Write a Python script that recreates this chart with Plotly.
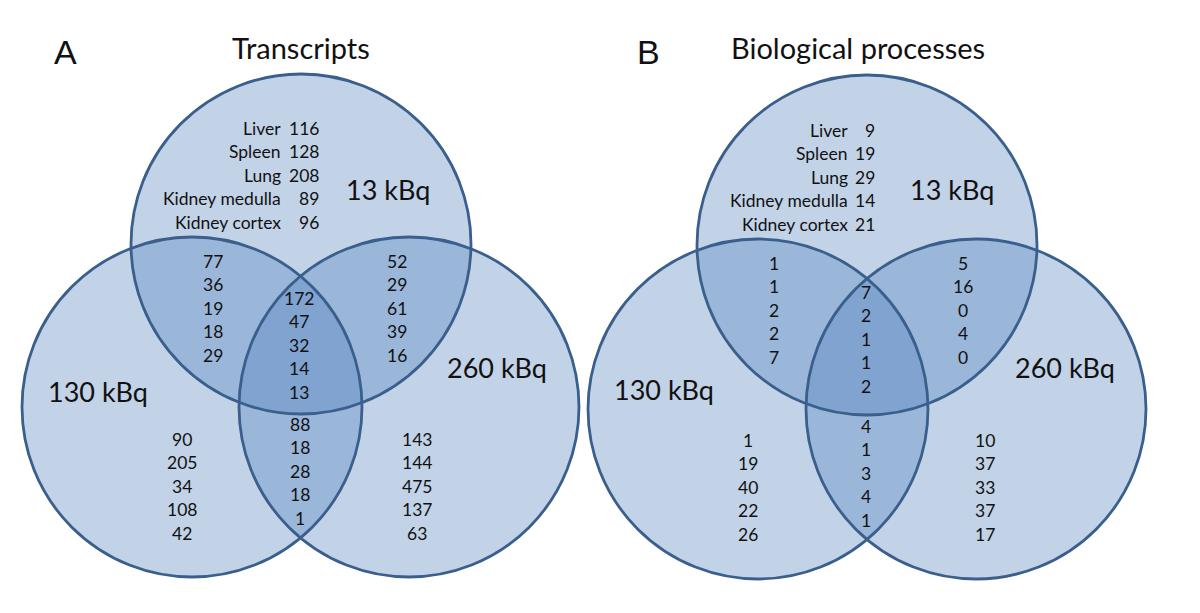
import plotly.graph_objects as go

# ---------------- data ----------------
tissues = ["Liver", "Spleen", "Lung", "Kidney medulla", "Kidney cortex"]
doses = ["13 kBq", "130 kBq", "260 kBq"]
panel_letters = ["A", "B"]
panel_titles = ["Transcripts", "Biological processes"]

# Panel A: transcripts
tr_13_only = [116, 128, 208, 89, 96]
tr_13_130 = [77, 36, 19, 18, 29]
tr_13_260 = [52, 29, 61, 39, 16]
tr_all = [172, 47, 32, 14, 13]
tr_130_260 = [88, 18, 28, 18, 1]
tr_130_only = [90, 205, 34, 108, 42]
tr_260_only = [143, 144, 475, 137, 63]

# Panel B: biological processes
bp_13_only = [9, 19, 29, 14, 21]
bp_13_130 = [1, 1, 2, 2, 7]
bp_13_260 = [5, 16, 0, 4, 0]
bp_all = [7, 2, 1, 1, 2]
bp_130_260 = [4, 1, 3, 4, 1]
bp_130_only = [1, 19, 40, 22, 26]
bp_260_only = [10, 37, 33, 37, 17]

# ---------------- layout geometry (pixel space) ----------------
W, H = 1200, 613
R = 170
panels = [
    dict(
        letter_xy=(65, 52), title_xy=(301, 47),
        circles={"13": (301, 244), "130": (192, 407), "260": (409, 407)},
        dose_xy={"13": (388, 189), "130": (98, 391), "260": (497, 367)},
        label_right=283, num_right=321, top_y=128,
        cols={"13_130": (213, 261), "13_260": (397, 261), "all": (299, 298),
              "130_260": (300, 424), "130_only": (182, 439), "260_only": (417, 439)},
        data={"13_only": tr_13_only, "13_130": tr_13_130, "13_260": tr_13_260,
              "all": tr_all, "130_260": tr_130_260, "130_only": tr_130_only,
              "260_only": tr_260_only},
    ),
    dict(
        letter_xy=(648, 52), title_xy=(858, 47),
        circles={"13": (867, 245), "130": (758, 409), "260": (976, 409)},
        dose_xy={"13": (952, 189), "130": (664, 389), "260": (1065, 367)},
        label_right=850, num_right=877, top_y=130,
        cols={"13_130": (774, 263), "13_260": (963, 263), "all": (866, 292),
              "130_260": (866, 426), "130_only": (748, 440), "260_only": (985, 440)},
        data={"13_only": bp_13_only, "13_130": bp_13_130, "13_260": bp_13_260,
              "all": bp_all, "130_260": bp_130_260, "130_only": bp_130_only,
              "260_only": bp_260_only},
    ),
]
ROW = 23.5
FILL = "rgba(79,129,189,0.35)"
EDGE = "#3a5f8d"
TXT = "#111111"
FONT = "Lato"
YOFF = 0  # baseline correction

fig = go.Figure()
shapes = []
annotations = []

def ann(x, y, text, size, anchor="center", family=FONT):
    annotations.append(dict(x=x, y=y + YOFF, xref="x", yref="y", text=text,
                            showarrow=False, xanchor=anchor, yanchor="middle",
                            font=dict(family=family, size=size, color=TXT)))

for p_i, p in enumerate(panels):
    # fills first
    for key in ["13", "130", "260"]:
        cx, cy = p["circles"][key]
        shapes.append(dict(type="circle", xref="x", yref="y",
                           x0=cx - R, x1=cx + R, y0=cy - R, y1=cy + R,
                           fillcolor=FILL, line=dict(width=0), layer="below"))
    # outlines
    for key in ["13", "130", "260"]:
        cx, cy = p["circles"][key]
        shapes.append(dict(type="circle", xref="x", yref="y",
                           x0=cx - R, x1=cx + R, y0=cy - R, y1=cy + R,
                           fillcolor="rgba(0,0,0,0)", line=dict(width=2.8, color=EDGE),
                           layer="below"))
    ann(p["letter_xy"][0], p["letter_xy"][1], panel_letters[p_i], 34, family="Liberation Sans")
    ann(p["title_xy"][0], p["title_xy"][1], panel_titles[p_i], 29)
    for key, dose in zip(["13", "130", "260"], doses):
        ann(p["dose_xy"][key][0], p["dose_xy"][key][1], dose, 27)
    # top-only region: tissue labels + numbers
    for i, (t, v) in enumerate(zip(tissues, p["data"]["13_only"])):
        y = p["top_y"] + i * ROW
        ann(p["label_right"], y, t, 17.5, anchor="right")
        ann(p["num_right"], y, str(v), 17.5, anchor="right")
    for key, (x0, y0) in p["cols"].items():
        for i, v in enumerate(p["data"][key]):
            ann(x0, y0 + i * ROW, str(v), 17.5)

fig.update_layout(
    width=W, height=H, margin=dict(l=0, r=0, t=0, b=0),
    paper_bgcolor="white", plot_bgcolor="white",
    shapes=shapes, annotations=annotations, showlegend=False,
    xaxis=dict(range=[0, W], visible=False, fixedrange=True),
    yaxis=dict(range=[H, 0], visible=False, fixedrange=True),
)
fig.write_html("out.html", post_script="document.body.style.margin='0';",
               config={"displayModeBar": False})
